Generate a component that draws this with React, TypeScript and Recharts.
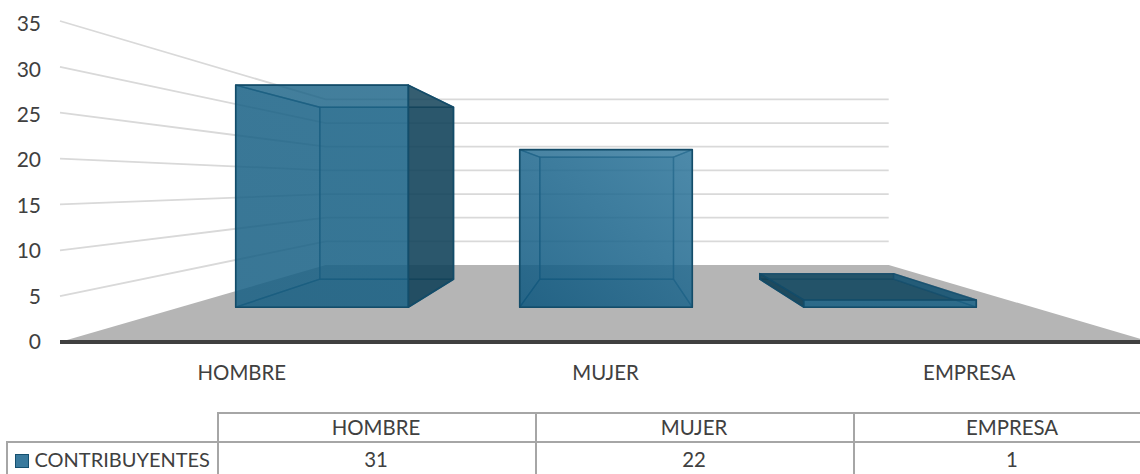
import React from "react";
import { ComposedChart, Bar, XAxis, YAxis, CartesianGrid } from "recharts";

const categories = ["HOMBRE", "MUJER", "EMPRESA"];
const contribuyentes = [31, 22, 1];
const yTicks = [0, 5, 10, 15, 20, 25, 30, 35];
const seriesName = "CONTRIBUYENTES";

const data = categories.map((name, i) => ({ name, value: contribuyentes[i] }));

// perspective of the 3D scene: everything is projected from the chart's front plane
const VX = 609;
const VY = 183;
const T_NEAR = 0.781;
const T_FAR = 0.605;
const T_WALL = 0.516;
const FONT = "Lato, Carlito, 'Open Sans', sans-serif";
const TEXT = "#404040";

const proj = (x: number, y: number, t: number) => [VX + t * (x - VX), VY + t * (y - VY)];
const pts = (...p: number[][]) => p.map((q) => q.map((n) => n.toFixed(1)).join(",")).join(" ");

function GridLine(props: any) {
  const { x1, x2, y1 } = props;
  const a = [x1, y1];
  const b = proj(x1, y1, T_WALL);
  const c = proj(x2, y1, T_WALL);
  if (Math.abs(y1 - 342) < 1) {
    const d = [x2, y1];
    return <polygon key="floor" points={pts(a, b, c, d)} fill="#b5b5b5" />;
  }
  return (
    <polyline
      key={"g" + y1}
      points={pts(a, b, c)}
      fill="none"
      stroke="#d9d9d9"
      strokeWidth={1.8}
    />
  );
}

function Box(props: any) {
  const { x, y, width, height, index } = props;
  const r = x + width;
  const b = y + height;
  const nTL = proj(x, y, T_NEAR);
  const nTR = proj(r, y, T_NEAR);
  const nBL = proj(x, b, T_NEAR);
  const nBR = proj(r, b, T_NEAR);
  const fTL = proj(x, y, T_FAR);
  const fTR = proj(r, y, T_FAR);
  const fBL = proj(x, b, T_FAR);
  const fBR = proj(r, b, T_FAR);
  const inner = { stroke: "#154f6d", strokeWidth: 1.4, strokeOpacity: 0.65, strokeLinejoin: "round" as const };
  const outer = { stroke: "#134c69", strokeWidth: 1.6, strokeLinejoin: "round" as const };
  const seenFromAbove = nTL[1] > fTL[1];
  const front = `url(#face${index})`;
  return (
    <g>
      <polygon points={pts(fTL, fTR, fBR, fBL)} fill="#186084" fillOpacity={0.5} {...inner} />
      <polygon points={pts(nBL, nBR, fBR, fBL)} fill="#125578" fillOpacity={0.5} {...inner} />
      <polygon
        points={pts(nTL, nTR, fTR, fTL)}
        fill={seenFromAbove ? "#174a62" : "#186084"}
        fillOpacity={seenFromAbove ? 0.85 : 0.3}
        {...inner}
      />
      {fTL[0] > nTL[0] && fTL[0] < nTR[0] ? (
        <polygon points={pts(nTL, fTL, fBL, nBL)} fill="#186084" fillOpacity={0.45} {...inner} />
      ) : null}
      {fTR[0] < nTR[0] && fTR[0] > nTL[0] ? (
        <polygon points={pts(nTR, fTR, fBR, nBR)} fill="#186084" fillOpacity={0.45} {...inner} />
      ) : null}
      {fTR[0] > nTR[0] ? (
        <polygon points={pts(nTR, fTR, fBR, nBR)} fill="#123f55" fillOpacity={0.79} {...outer} />
      ) : null}
      {fTL[0] < nTL[0] ? (
        <polygon points={pts(nTL, fTL, fBL, nBL)} fill="#123f55" fillOpacity={0.85} {...outer} />
      ) : null}
      <polygon points={pts(nTL, nTR, nBR, nBL)} fill={front} fillOpacity={0.74} {...outer} />
    </g>
  );
}

function YTick(props: any) {
  const { x, y, payload } = props;
  return (
    <text x={x} y={y + payload.value * 0.09} dy={7} textAnchor="end" fontFamily={FONT} fontSize={21} fill={TEXT}>
      {payload.value}
    </text>
  );
}

const COL0 = 217;
const COLW = 318;
const ROW_TOP = 411.5;
const ROW_H = 29.5;
const line = "#a6a6a6";

function cellStyle(left: number, top: number, width: number): React.CSSProperties {
  return {
    position: "absolute",
    left,
    top,
    width,
    height: ROW_H,
    lineHeight: `${ROW_H}px`,
    textAlign: "center",
    fontFamily: FONT,
    fontSize: 20.4,
    color: TEXT,
    whiteSpace: "nowrap",
  };
}

function hr(left: number, top: number, width: number, key: string) {
  return <div key={key} style={{ position: "absolute", left, top, width, height: 2, background: line }} />;
}
function vr(left: number, top: number, height: number, key: string) {
  return <div key={key} style={{ position: "absolute", left, top, width: 2, height, background: line }} />;
}

export default function App() {
  const row2 = ROW_TOP + ROW_H + 4;
  return (
    <div style={{ position: "absolute", left: 0, top: 0, width: 1140, height: 474, overflow: "hidden", background: "#fff" }}>
      <ComposedChart
        width={1151}
        height={474}
        data={data}
        margin={{ top: 21, right: 0, bottom: 0, left: 0 }}
        barSize={221}
      >
        <defs>
          {categories.map((c, i) => (
            <linearGradient key={c} id={`face${i}`} x1="0" y1="1" x2="1" y2="0">
              <stop offset="0" stopColor={i === 1 ? "#0d577f" : "#186084"} />
              <stop offset="1" stopColor={i === 1 ? "#337a9f" : "#1a6387"} />
            </linearGradient>
          ))}
        </defs>
        <CartesianGrid vertical={false} horizontal={GridLine as any} />
        <XAxis
          dataKey="name"
          height={132}
          tickLine={false}
          axisLine={{ stroke: "#404040", strokeWidth: 4 }}
          tickMargin={18}
          tick={{ fontFamily: FONT, fontSize: 20.4, fill: TEXT }}
          interval={0}
        />
        <YAxis
          width={60}
          domain={[0, 35]}
          ticks={yTicks}
          axisLine={false}
          tickLine={false}
          tickMargin={13}
          tick={YTick as any}
          interval={0}
        />
        <Bar dataKey="value" shape={Box as any} isAnimationActive={false} />
      </ComposedChart>

      {hr(COL0, ROW_TOP, 1140 - COL0, "h0")}
      {hr(5.5, ROW_TOP + ROW_H, 1140 - 5.5, "h1")}
      {vr(5.5, ROW_TOP + ROW_H, 40, "v0")}
      {[0, 1, 2].map((i) => vr(COL0 + i * COLW, ROW_TOP, 70, "v" + (i + 1)))}
      {categories.map((c, i) => (
        <div key={c} style={cellStyle(COL0 + i * COLW, ROW_TOP + 1, COLW)}>{c}</div>
      ))}
      {contribuyentes.map((v, i) => (
        <div key={i} style={cellStyle(COL0 + i * COLW, row2, COLW)}>{v}</div>
      ))}
      <div style={{ ...cellStyle(34.5, row2, 180), textAlign: "left", fontSize: 20 }}>{seriesName}</div>
      <div style={{ position: "absolute", left: 15, top: 453.5, width: 12, height: 12, background: "#3a7a9d", border: "1.5px solid #15506f" }} />
    </div>
  );
}
